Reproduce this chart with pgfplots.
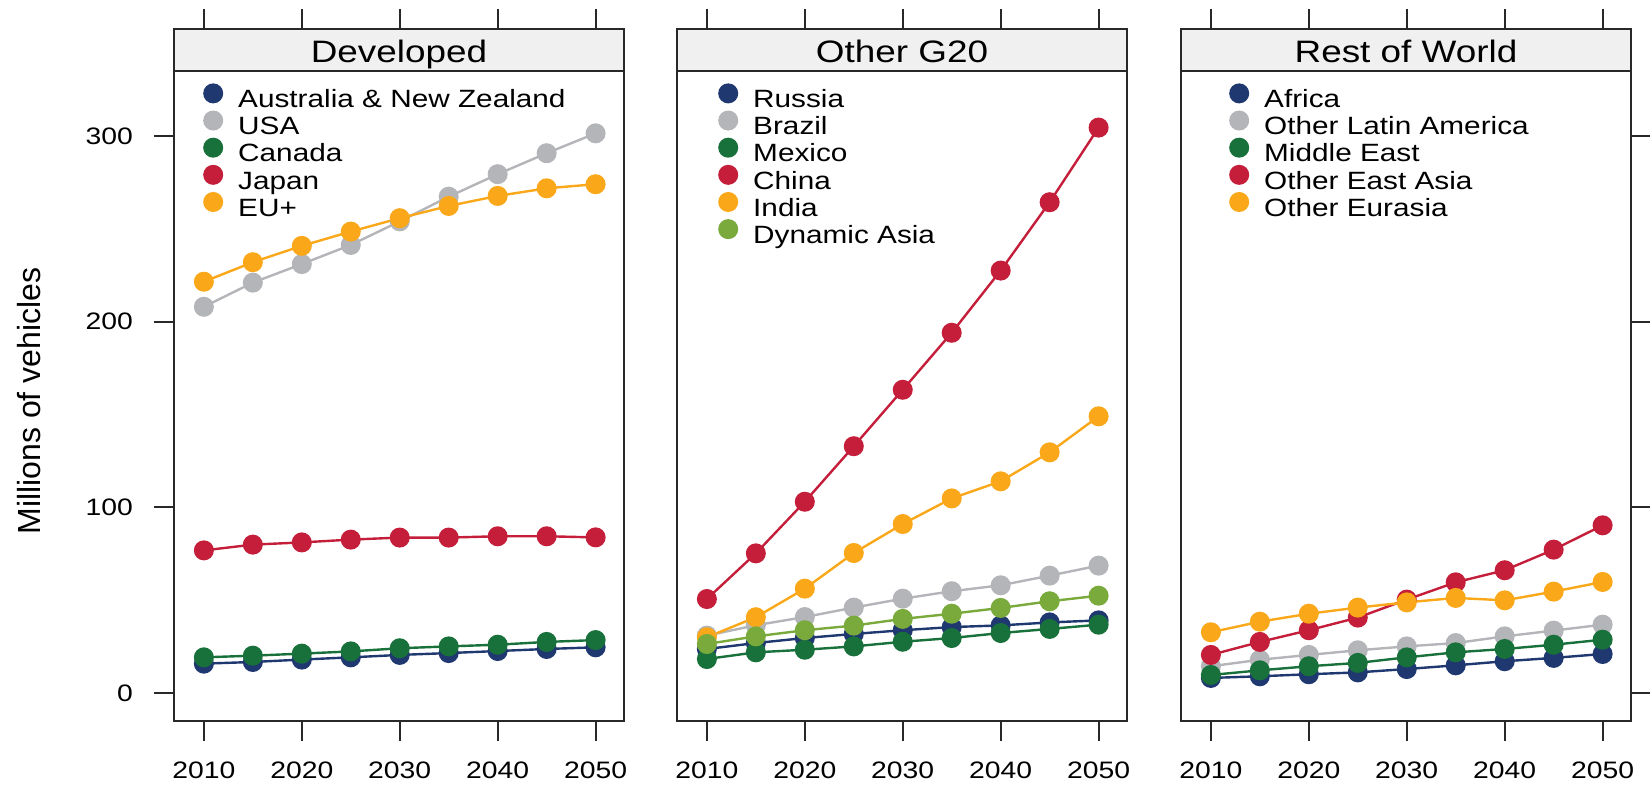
\documentclass[border=0pt]{standalone}
\usepackage{fontspec}
\setmainfont{Liberation Sans}[FakeStretch=1.19]
\newfontfamily\labelfont{Liberation Sans}
\usepackage{pgfplots}
\usepackage{pgfplotstable}
\pgfplotsset{compat=1.18}

\definecolor{cnavy}{RGB}{31,56,112}
\definecolor{cgray}{RGB}{180,181,185}
\definecolor{cgreen}{RGB}{24,113,58}
\definecolor{cred}{RGB}{196,30,58}
\definecolor{corange}{RGB}{250,168,25}
\definecolor{clgreen}{RGB}{122,170,60}
\definecolor{axisgray}{RGB}{40,40,40}
\definecolor{stripfill}{RGB}{240,240,240}

% Vehicle stock, millions
\pgfplotstableread{
year anz  usa   can  jpn  eu
2010 15.8 208.0 19.2 76.8 221.5
2015 16.7 221.0 20.1 79.9 232.0
2020 18.0 231.0 21.2 81.1 240.8
2025 19.2 241.3 22.4 82.6 248.5
2030 20.5 254.0 24.1 83.7 255.7
2035 21.5 267.3 25.1 83.7 262.3
2040 22.6 279.4 26.0 84.4 267.7
2045 23.7 290.7 27.5 84.4 271.8
2050 24.6 301.4 28.5 83.8 274.0
}\devtable

\pgfplotstableread{
year rus  bra  mex  chn   ind   dyn
2010 23.7 30.9 18.3 50.6  30.0  26.4
2015 26.9 36.5 21.9 75.2  40.8  30.5
2020 29.6 40.9 23.3 103.0 56.2  33.8
2025 31.8 46.0 25.1 132.9 75.4  36.3
2030 33.8 50.8 27.6 163.3 91.0  39.9
2035 35.5 54.8 29.6 194.0 104.8 42.7
2040 36.4 58.0 32.3 227.5 114.0 45.8
2045 38.0 63.2 34.5 264.3 129.6 49.4
2050 39.1 68.6 36.8 304.5 149.0 52.4
}\gtwentytable

\pgfplotstableread{
year afr  ola  mde  oea  oeu
2010 8.1  14.4 9.7  20.5 32.7
2015 9.0  17.9 12.2 27.5 38.4
2020 10.1 20.5 14.4 33.8 42.7
2025 11.1 23.0 16.2 40.6 46.0
2030 12.9 25.1 19.2 50.3 48.8
2035 14.9 26.9 21.9 59.6 51.2
2040 17.1 30.5 23.7 66.1 49.9
2045 18.9 33.6 26.0 77.2 54.6
2050 21.0 36.8 28.7 90.3 59.8
}\restable

\pgfplotsset{
  legend image code/.code={\fill[#1] (4.4pt,4.3pt) circle (4.4pt);},
  series/.style={color=#1, line width=1.2pt, mark=*, mark size=4.4pt,
    mark options={draw=none, fill=#1}},
  panel/.style={
    scale only axis, width=225pt, height=346pt,
    xmin=2006.95, xmax=2052.9, ymin=-15.08, ymax=357.6,
    axis line style={draw=axisgray, line width=1pt},
    every tick/.style={draw=axisgray, line width=1pt},
    tick align=outside, major tick length=10pt,
    xtick={2010,2020,...,2050}, xtick pos=both, xticklabel pos=lower,
    ytick={0,100,200,300},
    /pgf/number format/1000 sep={},
    /pgf/number format/assume math mode=true,
    ticklabel style={font=\fontsize{11.9}{14}\selectfont, text=black},
    xticklabel shift=7pt, yticklabel shift=7pt,
    axis on top,
    legend cell align=left,
    legend style={draw=none, fill=none, inner sep=0pt, outer sep=0pt,
      anchor=north west, font=\fontsize{12.5}{15}\selectfont,
      row sep=-2.4pt, column sep=7.5pt,
      nodes={inner sep=0pt, text height=9.5pt, text depth=3.85pt}},
  },
}

\newcommand{\panelstrip}[1]{%
  \fill[stripfill] (axis description cs:0,0.9393) rectangle (axis description cs:1,1);
  \draw[axisgray, line width=1pt] (axis description cs:0,0.9393) -- (axis description cs:1,0.9393);
  \node[anchor=base, font=\fontsize{15.5}{18}\selectfont] at (axis description cs:0.5,0.951) {#1};
}

\begin{document}
\begin{tikzpicture}
\useasboundingbox (0,0) rectangle (825pt,393pt);

% Developed economies
\begin{axis}[panel, at={(87pt,32.5pt)}, anchor=south west,
  ytick pos=left,
  ylabel={Millions of vehicles},
  ylabel style={font=\labelfont\fontsize{16}{19}\selectfont,
    at={(axis description cs:-0.3222,0.4624)}, anchor=center, rotate=0},
  legend style={at={(axis description cs:0.0649,0.9214)}}]
\panelstrip{Developed}
\addplot[series=cnavy]   table[x=year, y=anz] {\devtable};
\addlegendentry{Australia \& New Zealand}
\addplot[series=cgray]   table[x=year, y=usa] {\devtable};
\addlegendentry{USA}
\addplot[series=cgreen]  table[x=year, y=can] {\devtable};
\addlegendentry{Canada}
\addplot[series=cred]    table[x=year, y=jpn] {\devtable};
\addlegendentry{Japan}
\addplot[series=corange] table[x=year, y=eu]  {\devtable};
\addlegendentry{EU+}
\end{axis}

% Other G20 members
\begin{axis}[panel, at={(338.5pt,32.5pt)}, anchor=south west,
  ytick=\empty,
  legend style={at={(axis description cs:0.0916,0.9214)}}]
\panelstrip{Other G20}
\addplot[series=cnavy]   table[x=year, y=rus] {\gtwentytable};
\addlegendentry{Russia}
\addplot[series=cgray]   table[x=year, y=bra] {\gtwentytable};
\addlegendentry{Brazil}
\addplot[series=cgreen]  table[x=year, y=mex] {\gtwentytable};
\addlegendentry{Mexico}
\addplot[series=cred]    table[x=year, y=chn] {\gtwentytable};
\addlegendentry{China}
\addplot[series=corange] table[x=year, y=ind] {\gtwentytable};
\addlegendentry{India}
\addplot[series=clgreen] table[x=year, y=dyn] {\gtwentytable};
\addlegendentry{Dynamic Asia}
\end{axis}

% Rest of world: ticks on the right-hand side, no numbers
\begin{axis}[panel, at={(590.5pt,32.5pt)}, anchor=south west,
  ytick pos=right, yticklabel pos=left, yticklabels={},
  legend style={at={(axis description cs:0.1071,0.9214)}}]
\panelstrip{Rest of World}
\addplot[series=cnavy]   table[x=year, y=afr] {\restable};
\addlegendentry{Africa}
\addplot[series=cgray]   table[x=year, y=ola] {\restable};
\addlegendentry{Other Latin America}
\addplot[series=cgreen]  table[x=year, y=mde] {\restable};
\addlegendentry{Middle East}
\addplot[series=cred]    table[x=year, y=oea] {\restable};
\addlegendentry{Other East Asia}
\addplot[series=corange] table[x=year, y=oeu] {\restable};
\addlegendentry{Other Eurasia}
\end{axis}
\end{tikzpicture}
\end{document}
